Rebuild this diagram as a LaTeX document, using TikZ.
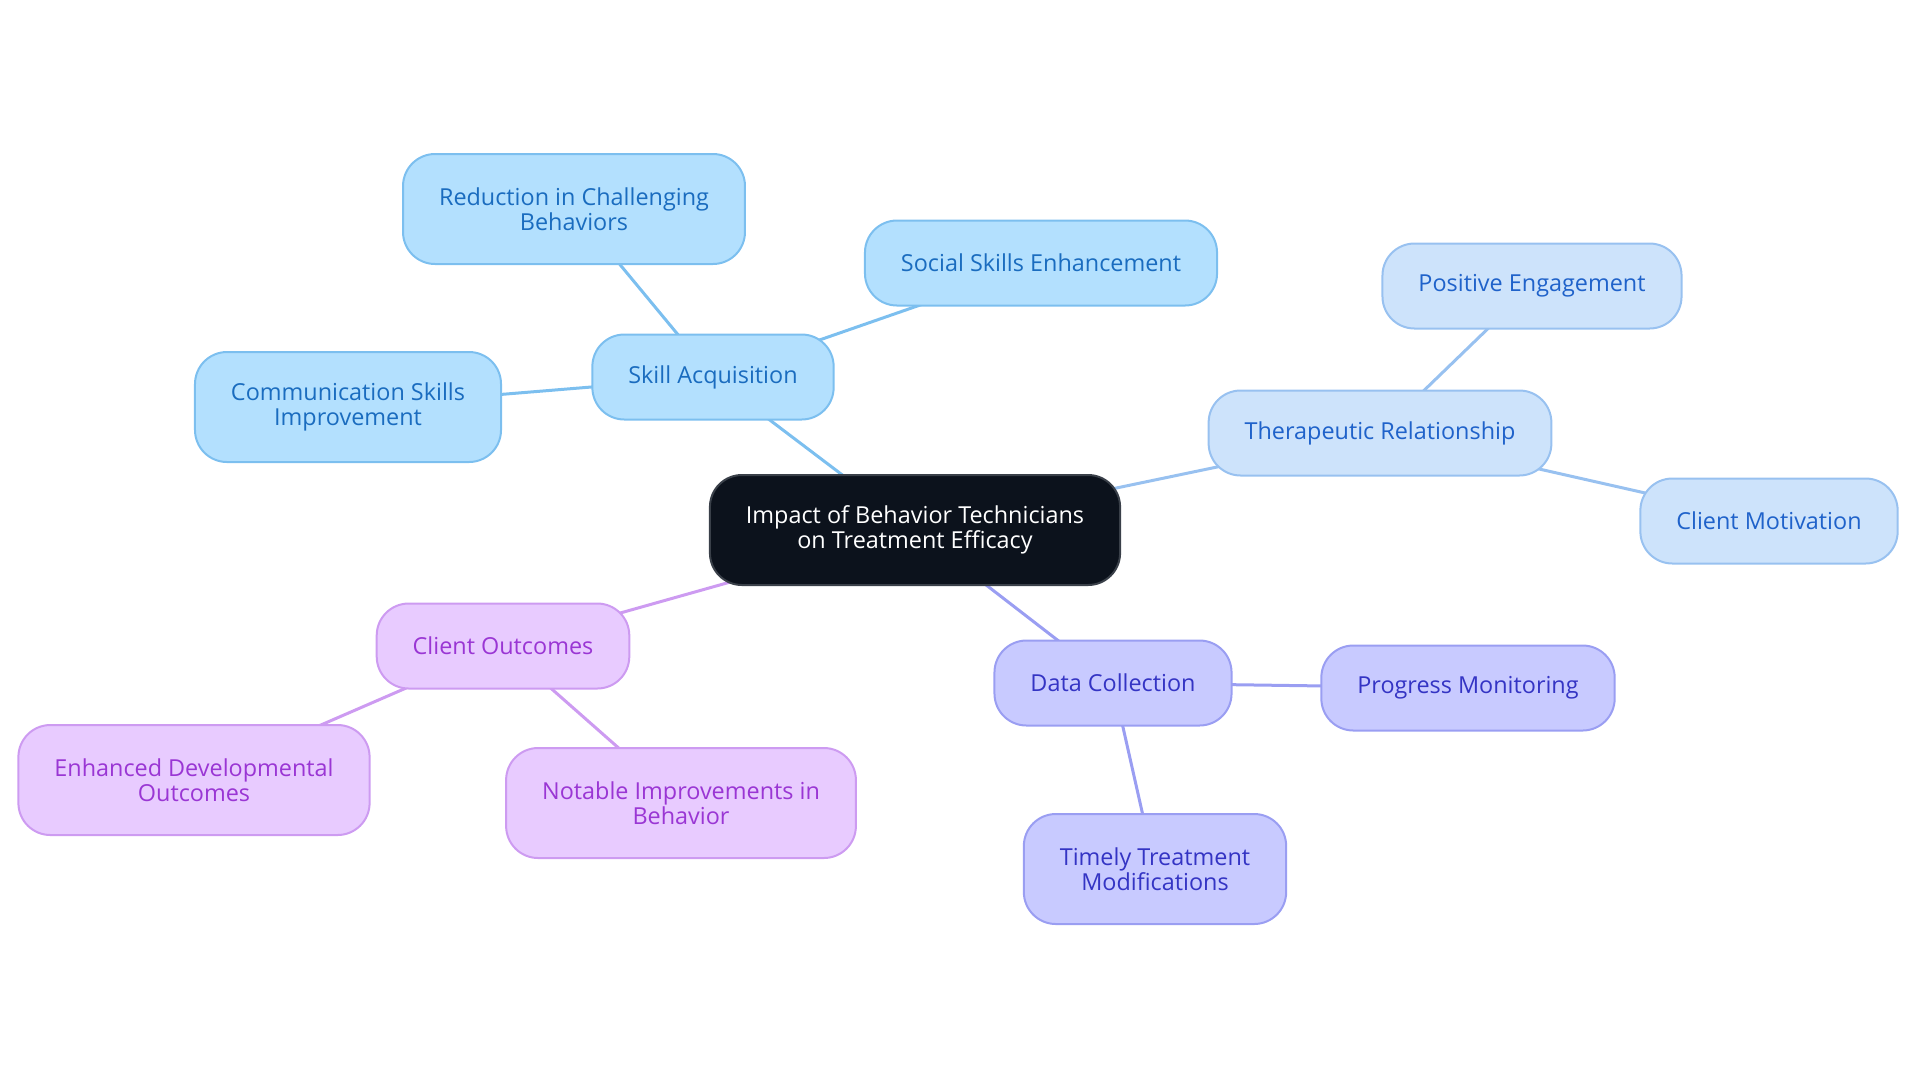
\documentclass[tikz,border=0pt]{standalone}
\usepackage{fontspec}
\setmainfont{Open Sans}
\usetikzlibrary{backgrounds}
\definecolor{rootfill}{HTML}{0C121C}
\definecolor{rootdraw}{HTML}{3A4049}
\definecolor{skillfill}{HTML}{B3E0FE}
\definecolor{skilldraw}{HTML}{7CBFEF}
\definecolor{skilltext}{HTML}{1A6CBF}
\definecolor{therafill}{HTML}{CDE3FB}
\definecolor{theradraw}{HTML}{98C1F0}
\definecolor{theratext}{HTML}{1F62CA}
\definecolor{datafill}{HTML}{C8CAFF}
\definecolor{datadraw}{HTML}{9A9EF2}
\definecolor{datatext}{HTML}{3434C4}
\definecolor{clientfill}{HTML}{E8CBFF}
\definecolor{clientdraw}{HTML}{CD9BF1}
\definecolor{clienttext}{HTML}{9A36D4}

\begin{document}
\begin{tikzpicture}[
      x=0.5pt, y=-0.5pt,
      every node/.style={rounded corners=16pt, line width=1pt, inner xsep=18pt,
        minimum height=42.5pt, align=center,
        font=\fontsize{11.7}{12.6}\selectfont},
      tall/.style={minimum height=55pt},
      root/.style={fill=rootfill, draw=rootdraw, text=white},
      skill/.style={fill=skillfill, draw=skilldraw, text=skilltext},
      thera/.style={fill=therafill, draw=theradraw, text=theratext},
      data/.style={fill=datafill, draw=datadraw, text=datatext},
      client/.style={fill=clientfill, draw=clientdraw, text=clienttext},
      link/.style={line width=1.5pt}
    ]
      \useasboundingbox (0,0) rectangle (1920,1083);

      % The central topic
      \node[root, tall] (impact) at (915,530) {Impact of Behavior Technicians\\on Treatment Efficacy};

      % Skill acquisition and its children
      \node[skill] (skillacq) at (713,377) {Skill Acquisition};
      \node[skill, tall] (reduction) at (574,209) {Reduction in Challenging\\Behaviors};
      \node[skill] (social) at (1041,263) {Social Skills Enhancement};
      \node[skill, tall] (commskills) at (348,407) {Communication Skills\\Improvement};

      % Therapeutic relationship and its children
      \node[thera] (therarel) at (1380,433) {Therapeutic Relationship};
      \node[thera] (engagement) at (1532,286) {Positive Engagement};
      \node[thera] (motivation) at (1769,521) {Client Motivation};

      % Client outcomes and its children
      \node[client] (outcomes) at (503,646) {Client Outcomes};
      \node[client, tall] (developmental) at (194,780) {Enhanced Developmental\\Outcomes};
      \node[client, tall] (notable) at (681,803) {Notable Improvements in\\Behavior};

      % Data collection and its children
      \node[data] (datacoll) at (1113,683) {Data Collection};
      \node[data] (progress) at (1468,688) {Progress Monitoring};
      \node[data, tall] (timely) at (1155,869) {Timely Treatment\\Modifications};

      % Connectors go behind the nodes
      \begin{scope}[on background layer]
        \draw[link, skilldraw] (impact.center) -- (skillacq.center);
        \draw[link, skilldraw] (skillacq.center) -- (reduction.center);
        \draw[link, skilldraw] (skillacq.center) -- (social.center);
        \draw[link, skilldraw] (skillacq.center) -- (commskills.center);
        \draw[link, theradraw] (impact.center) -- (therarel.center);
        \draw[link, theradraw] (therarel.center) -- (engagement.center);
        \draw[link, theradraw] (therarel.center) -- (motivation.center);
        \draw[link, clientdraw] (impact.center) -- (outcomes.center);
        \draw[link, clientdraw] (outcomes.center) -- (developmental.center);
        \draw[link, clientdraw] (outcomes.center) -- (notable.center);
        \draw[link, datadraw] (impact.center) -- (datacoll.center);
        \draw[link, datadraw] (datacoll.center) -- (progress.center);
        \draw[link, datadraw] (datacoll.center) -- (timely.center);
      \end{scope}
    \end{tikzpicture}
\end{document}
